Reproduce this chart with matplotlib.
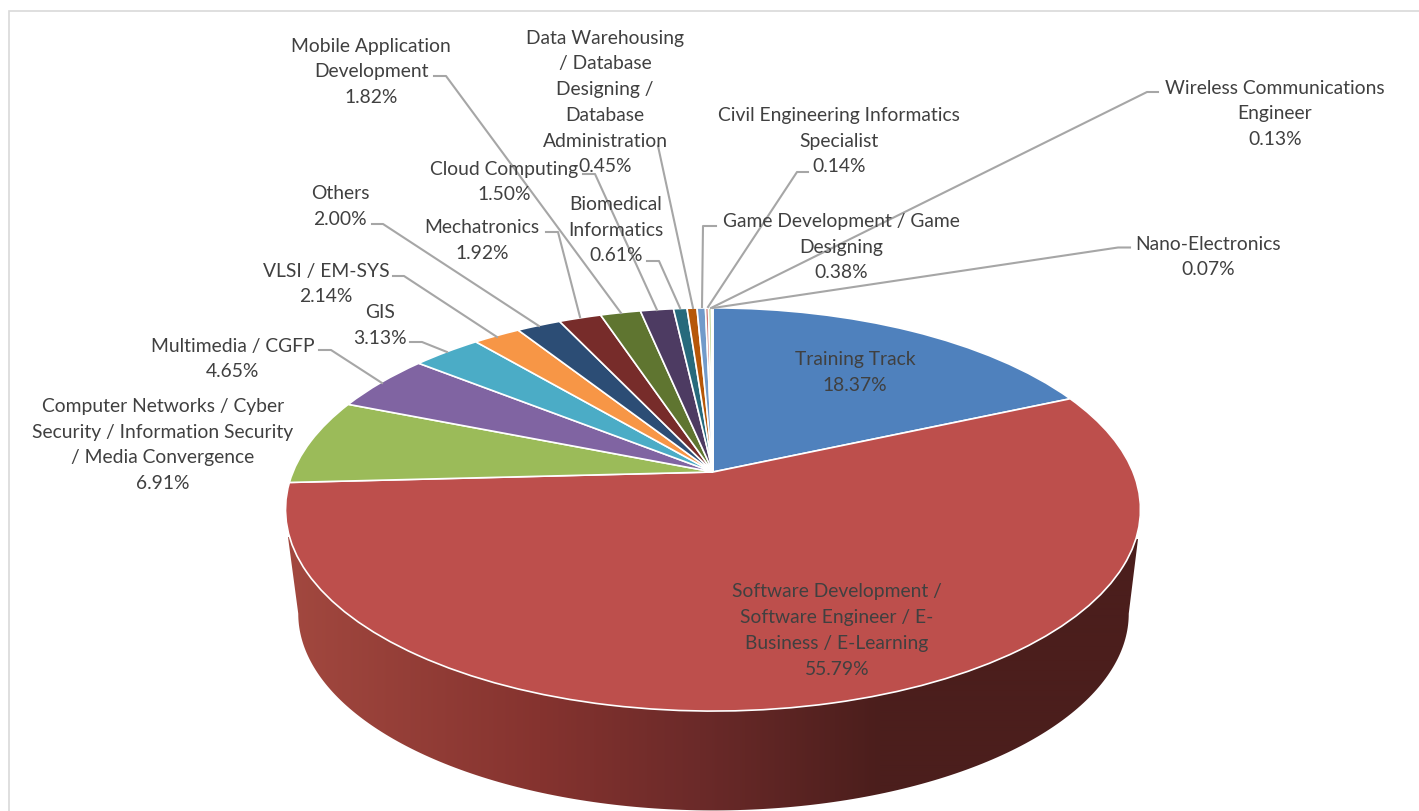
import numpy as np
import matplotlib
matplotlib.use("Agg")
import matplotlib.pyplot as plt
from matplotlib.patches import Polygon
from matplotlib.path import Path
from matplotlib.transforms import Transform
from matplotlib.colors import to_rgb

categories = ["Training Track", "Software Development /\nSoftware Engineer / E-\nBusiness / E-Learning",
              "Computer Networks / Cyber\nSecurity / Information Security\n/ Media Convergence",
              "Multimedia / CGFP", "GIS", "VLSI / EM-SYS", "Others", "Mechatronics",
              "Mobile Application\nDevelopment", "Cloud Computing", "Biomedical\nInformatics",
              "Data Warehousing\n/ Database\nDesigning /\nDatabase\nAdministration",
              "Game Development / Game\nDesigning", "Civil Engineering Informatics\nSpecialist",
              "Wireless Communications\nEngineer", "Nano-Electronics"]
values = [18.37, 55.79, 6.91, 4.65, 3.13, 2.14, 2.00, 1.92, 1.82, 1.50, 0.61, 0.45, 0.38, 0.14, 0.13, 0.07]
colors = ["#4F81BD", "#BD4F4C", "#9BBB59", "#8064A2", "#4BACC6", "#F79646", "#2C4D75", "#772C2A",
          "#5F7530", "#4D3B62", "#276A7C", "#B65708", "#729ACA", "#D17B78", "#AFC97A", "#9983B5"]
label_xy = [(855, 372.5), (837, 630.5), (163, 445), (233, 359), (380, 325.5), (326, 284), (340, 206.5),
            (482, 240.5), (371, 72), (504, 182), (616, 230), (605, 102.5), (841, 247), (839, 141),
            (1275, 114), (1208, 257)]
leaders = {
    "Multimedia": [(319, 351), (331, 351), (382, 384)],
    "GIS": [(410, 343), (422, 343), (447, 353)],
    "VLSI": [(393, 277), (404, 277), (497, 338)],
    "Others": [(372, 225), (383, 225), (539, 327)],
    "Mechatronics": [(546, 233), (558, 233), (580, 318)],
    "Mobile": [(434, 77), (446, 77), (621, 314)],
    "Cloud": [(583, 175), (595, 175), (657, 311)],
    "Biomedical": [(647, 262), (659, 262), (680, 309)],
    "Data": [(658, 147), (693, 309)],
    "Game": [(716, 227), (703, 227), (702, 308)],
    "Civil": [(808, 173), (797, 173), (708, 308)],
    "Wireless": [(1158, 93), (1147, 93), (711, 309)],
    "Nano": [(1130, 248.5), (1118, 248.5), (713, 309)],
}
side_stops_x = [290, 540, 700, 880, 1140]
side_stops_c = ["#A2483F", "#85332F", "#6B2A29", "#4B1E1C", "#4B1E1C"]

K = 0.186
TOP = (713.0, 473.0, 420.0, 194.6)
BOT = (713.5, 578.0, 408.0, 190.0)


def project(uv, p):
    uv = np.asarray(uv, float)
    w = 1 + K * uv[:, 1]
    return np.column_stack([p[0] + p[2] * uv[:, 0] / w, p[1] - p[3] * uv[:, 1] / w])


class Perspective(Transform):
    input_dims = 2
    output_dims = 2
    is_separable = False
    has_inverse = False

    def transform_non_affine(self, values):
        return project(values, TOP)

    def transform_path_non_affine(self, path):
        return Path(self.transform_non_affine(path.vertices), path.codes)


plt.rcParams["font.family"] = ["Lato", "DejaVu Sans"]
fig = plt.figure(figsize=(14.19, 8.12), dpi=100)
ax = fig.add_axes([0, 0, 1, 1])

wedges, _ = ax.pie(values, colors=colors, startangle=90, counterclock=False, radius=1,
                   wedgeprops=dict(edgecolor="white", linewidth=1.2, zorder=3))
tr = Perspective() + ax.transData
for w in wedges:
    w.set_transform(tr)

# side wall
t_r = np.arccos(-K)
t = np.linspace(t_r, 2 * np.pi - t_r, 200)
arc = project(np.column_stack([np.sin(t), np.cos(t)]), BOT)
poly = np.vstack([[(1138, 540)], arc, [(288, 538)]])
xs = np.arange(280, 1146)
rgb = np.array([to_rgb(c) for c in side_stops_c])
grad = np.stack([np.interp(xs, side_stops_x, rgb[:, i]) for i in range(3)], axis=1)[None, :, :]
im = ax.imshow(grad, extent=(280, 1146, 820, 500), aspect="auto", zorder=1, interpolation="bilinear")
clip = Polygon(poly, closed=True, transform=ax.transData, facecolor="none", edgecolor="none")
ax.add_patch(clip)
im.set_clip_path(clip)

ax.set_aspect("auto")
ax.set_xlim(0, 1419)
ax.set_ylim(812, 0)
ax.set_axis_off()

# chart frame
ax.plot([9, 9, 1419], [812, 11.5, 11.5], color="#D9D9D9", lw=1.2, zorder=0, solid_joinstyle="miter")

for pts in leaders.values():
    a = np.array(pts, float)
    ax.plot(a[:, 0], a[:, 1], color="#A6A6A6", lw=1.5, zorder=4, solid_joinstyle="round")

for name, val, (x, y) in zip(categories, values, label_xy):
    ax.text(x, y, f"{name}\n{val:.2f}%", ha="center", va="center", ma="center", fontsize=13.9,
            color="#404040", linespacing=1.62, zorder=5)

fig.savefig("out.png", dpi=100)
